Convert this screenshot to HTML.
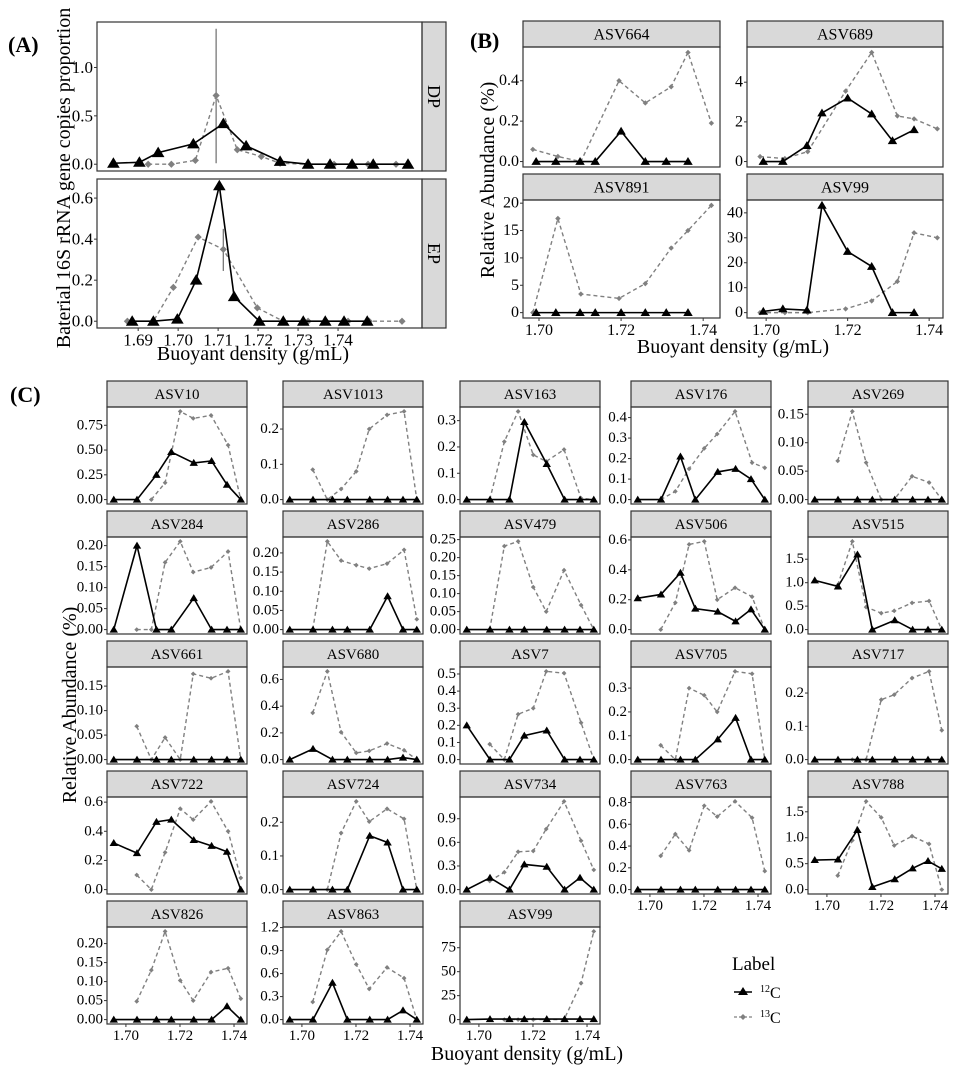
<!DOCTYPE html>
<html><head><meta charset="utf-8"><style>
html,body{margin:0;padding:0;background:#fff}
svg{display:block}
svg text{font-family:"Liberation Serif","DejaVu Serif",serif}
</style></head><body>
<svg id="fig" width="971" height="1069" viewBox="0 0 971 1069" xmlns="http://www.w3.org/2000/svg" font-family="Liberation Serif, DejaVu Serif, serif"></svg>
<script>
// ---------- Panel A data ----------
const aDP12x = [1.6838,1.6903,1.695,1.7038,1.7113,1.717,1.7255,1.7325,1.738,1.7435,1.7488,1.7575];
const aDP12y = [0.01,0.02,0.12,0.21,0.42,0.19,0.03,0,0,0,0,0];
const aDP13x = [1.6925,1.6983,1.7043,1.7095,1.7148,1.7208,1.7255,1.7325,1.739,1.7435,1.7475,1.7545];
const aDP13y = [0,0,0.04,0.71,0.15,0.08,0.01,0,0,0,0,0];
const aDPerr = [1.7095,0.01,1.40];
const aEP12x = [1.6885,1.6938,1.6998,1.7045,1.7103,1.714,1.7203,1.7263,1.7313,1.7368,1.7415,1.7473];
const aEP12y = [0,0,0.01,0.2,0.66,0.12,0,0,0,0,0,0];
const aEP13x = [1.6873,1.6938,1.6988,1.705,1.7113,1.7198,1.7263,1.7325,1.737,1.7425,1.7478,1.756];
const aEP13y = [0,0,0.165,0.41,0.35,0.065,0,0,0,0,0,0];
const aEPerr = [1.7113,0.245,0.45];
const aXTicks = [1.69,1.70,1.71,1.72,1.73,1.74];
const aDPYTicks = [0,0.5,1.0];
const aEPYTicks = [0,0.2,0.4,0.6];

// ---------- Panel B data ----------
const bX12 = [1.6993,1.7041,1.710,1.7137,1.72,1.7259,1.731,1.7363];
const bX13 = [1.6985,1.7046,1.7102,1.7195,1.7259,1.7322,1.7363,1.742];
const bNames = ["ASV664","ASV689","ASV891","ASV99"];
const b12 = [[0,0,0,0,0.15,0,0,0],[0,0,0.8,2.45,3.2,2.4,1.05,1.6],[0,0,0,0,0,0,0,0],[0.5,1.5,1,43,24.5,18.5,0,0]];
const b13 = [[0.06,0.025,0,0.4,0.29,0.37,0.54,0.19],[0.25,0.15,0.5,3.55,5.5,2.3,2.15,1.65],[0,17.2,3.4,2.6,5.3,11.8,15,19.6],[0,0,0,1.5,4.7,12.5,32,30]];
const bYTicks = [[0,0.2,0.4],[0,2,4],[0,5,10,15,20],[0,10,20,30,40]];
const bYLabels = [["0.0","0.2","0.4"],["0","2","4"],["0","5","10","15","20"],["0","10","20","30","40"]];
const bXTicks = [1.70,1.72,1.74];

// ---------- Panel C data ----------
const cX12 = [1.6955,1.7041,1.7113,1.7168,1.7251,1.7317,1.7374,1.7425];
const cX13 = [1.704,1.7094,1.7145,1.7201,1.7249,1.7315,1.7378,1.7425];
const cNames = ["ASV10","ASV1013","ASV163","ASV176","ASV269",
 "ASV284","ASV286","ASV479","ASV506","ASV515",
 "ASV661","ASV680","ASV7","ASV705","ASV717",
 "ASV722","ASV724","ASV734","ASV763","ASV788",
 "ASV826","ASV863","ASV99"];
const c12 = [
 [0,0,0.25,0.48,0.37,0.39,0.15,0],[0,0,0,0,0,0,0,0],[0,0,0,0.295,0.135,0,0,0],[0,0,0.21,0,0.135,0.15,0.1,0],[0,0,0,0,0,0,0,0],
 [0,0.2,0,0,0.075,0,0,0],[0,0,0,0,0,0.087,0,0],[0,0,0,0,0,0,0,0],[0.21,0.235,0.38,0.14,0.12,0.055,0.135,0],[1.05,0.92,1.6,0,0.2,0,0,0],
 [0,0,0,0,0,0,0,0],[0,0.08,0,0,0,0,0.015,0],[0.2,0,0,0.14,0.17,0,0,0],[0,0,0,0,0.085,0.175,0,0],[0,0,0,0,0,0,0,0],
 [0.32,0.25,0.465,0.48,0.34,0.3,0.26,0],[0,0,0,0,0.16,0.14,0,0],[0,0.15,0,0.32,0.29,0,0.15,0],[0,0,0,0,0,0,0,0],[0.57,0.58,1.15,0.05,0.2,0.41,0.55,0.4],
 [0,0,0,0,0,0,0.035,0],[0,0,0.48,0,0,0,0.12,0],[0,0.5,0.5,0.5,0.5,0.5,0.5,0.5]];
const c13 = [
 [null,0,0.17,0.89,0.82,0.85,0.55,0],[0.085,0,0.03,0.08,0.2,0.24,0.25,0],[0,0.22,0.335,0.17,0.145,0.19,0.005,0],[0,0.04,0.15,0.25,0.32,0.43,0.18,0.155],[0.068,0.155,0.065,0,0,0.041,0.03,0],
 [0,0,0.16,0.21,0.137,0.148,0.186,0],[0,0.23,0.18,0.168,0.159,0.172,0.208,0.027],[0,0.232,0.245,0.118,0.05,0.165,0.068,0],[0,0.18,0.57,0.59,0.2,0.28,0.22,0],[0.95,1.88,0.48,0.35,0.4,0.57,0.61,0],
 [0.068,0,0.045,0,0.175,0.166,0.18,0],[0.35,0.66,0.205,0.05,0.065,0.12,0.07,0],[0.09,0,0.265,0.3,0.515,0.505,0.215,0],[0.06,0,0.3,0.27,0.2,0.37,0.36,0],[null,0,0,0.18,0.195,0.245,0.265,0.088],
 [0.1,0,0.255,0.555,0.48,0.605,0.4,0.08],[null,0,0.168,0.262,0.202,0.24,0.21,0],[0.11,0.22,0.48,0.49,0.77,1.12,0.62,0.25],[0.31,0.51,0.36,0.77,0.67,0.81,0.66,0.17],[0.27,0.95,1.7,1.39,0.85,1.03,0.88,0],
 [0.048,0.13,0.232,0.103,0.05,0.125,0.135,0.055],[0.23,0.91,1.15,0.72,0.4,0.68,0.54,0],[null,0,0,0,0,0,38,92]];
const cYLabels = [
 ["0.00","0.25","0.50","0.75"],["0.0","0.1","0.2"],["0.0","0.1","0.2","0.3"],["0.0","0.1","0.2","0.3","0.4"],["0.00","0.05","0.10","0.15"],
 ["0.00","0.05","0.10","0.15","0.20"],["0.00","0.05","0.10","0.15","0.20"],["0.00","0.05","0.10","0.15","0.20","0.25"],["0.0","0.2","0.4","0.6"],["0.0","0.5","1.0","1.5"],
 ["0.00","0.05","0.10","0.15"],["0.0","0.2","0.4","0.6"],["0.0","0.1","0.2","0.3","0.4","0.5"],["0.0","0.1","0.2","0.3"],["0.0","0.1","0.2"],
 ["0.0","0.2","0.4","0.6"],["0.0","0.1","0.2"],["0.0","0.3","0.6","0.9"],["0.0","0.2","0.4","0.6","0.8"],["0.0","0.5","1.0","1.5"],
 ["0.00","0.05","0.10","0.15","0.20"],["0.0","0.3","0.6","0.9","1.2"],["0","25","50","75"]];
const cXTicks = [1.70,1.72,1.74];

// ---------- layout ----------
const NS = "http://www.w3.org/2000/svg";
const FONT = "Liberation Serif, DejaVu Serif, serif";
const svg = document.getElementById("fig");
function el(tag, attrs, parent){const e=document.createElementNS(NS,tag);for(const k in attrs)e.setAttribute(k,attrs[k]);(parent||svg).appendChild(e);return e;}
function txt(s, attrs, parent){attrs["font-family"]=FONT;const e=el("text",attrs,parent);e.textContent=s;return e;}

function drawPanel(o){
  const g = el("g",{});
  
  
  let all=[0];
  o.series.forEach(s=>s.ys.forEach(v=>{if(v!==null)all.push(v);}));
  (o.extra||[]).forEach(v=>all.push(v));
  let lo=Math.min(...all), hi=Math.max(...all); if(hi===lo)hi=lo+1;
  const pad=(hi-lo)*0.05; lo-=pad; hi+=pad;
  const sx=v=>o.x+(v-o.xd[0])/(o.xd[1]-o.xd[0])*o.w;
  const sy=v=>o.y+o.h-(v-lo)/(hi-lo)*o.h;
  el("rect",{x:o.x,y:o.y,width:o.w,height:o.h,fill:"#fff",stroke:"none"},g);
  if(o.strip){
    let sr, st;
    if(o.stripSide==="right"){
      sr=el("rect",{x:o.x+o.w,y:o.y,width:o.sw,height:o.h,fill:"#d9d9d9",stroke:"#333","stroke-width":1.2},g);
      st=txt(o.strip,{x:o.x+o.w+o.sw/2,y:o.y+o.h/2,"font-size":18,"text-anchor":"middle","dominant-baseline":"central",transform:`rotate(90 ${o.x+o.w+o.sw/2} ${o.y+o.h/2})`},g);
    } else {
      sr=el("rect",{x:o.x,y:o.y-o.sh,width:o.w,height:o.sh,fill:"#d9d9d9",stroke:"#333","stroke-width":1.2},g);
      st=txt(o.strip,{x:o.x+o.w/2,y:o.y-o.sh/2+1,"font-size":o.stripFs,"text-anchor":"middle","dominant-baseline":"central"},g);
    }
    
    
    
    
  }
  o.yt.forEach((v,i)=>{
    const y=sy(v);
    el("line",{x1:o.x-3,x2:o.x,y1:y,y2:y,stroke:"#333","stroke-width":1},g);
    const t=txt(o.ytl[i],{x:o.x-4,y:y,"font-size":o.fs,"text-anchor":"end","dominant-baseline":"central"},g);
    
    
  });
  if(o.xt){
    o.xt.forEach((v,i)=>{
      const x=sx(v);
      el("line",{x1:x,x2:x,y1:o.y+o.h,y2:o.y+o.h+3,stroke:"#333","stroke-width":1},g);
      const t=txt(o.xtl[i],{x:x,y:o.y+o.h+4+o.fs*0.8,"font-size":o.fs,"text-anchor":"middle"},g);
      
      
    });
  }
  (o.err||[]).forEach(e=>{
    const l=el("line",{x1:sx(e[0]),x2:sx(e[0]),y1:sy(e[1]),y2:sy(e[2]),stroke:"#777","stroke-width":1.3},g);
    
    
  });
  o.series.forEach(s=>{
    const pts=[]; s.xs.forEach((x,i)=>{if(s.ys[i]!==null)pts.push([sx(x),sy(s.ys[i])]);});
    const is12 = s.kind==="12C";
    const pl=el("polyline",{points:pts.map(p=>p.join(",")).join(" "),fill:"none",stroke:is12?"#000":"#808080","stroke-width":is12?1.6:1.4,"stroke-dasharray":is12?"none":"4,3"},g);
    
    
    pts.forEach(p=>{
      let m;
      if(is12){const r=o.ms; m=el("polygon",{points:`${p[0]},${p[1]-r} ${p[0]-r*1.05},${p[1]+r*0.75} ${p[0]+r*1.05},${p[1]+r*0.75}`,fill:"#000"},g);}
      else{const r=o.ms*0.6; m=el("polygon",{points:`${p[0]},${p[1]-r} ${p[0]+r},${p[1]} ${p[0]},${p[1]+r} ${p[0]-r},${p[1]}`,fill:"#808080"},g);}
      
      
    });
  });
  el("rect",{x:o.x,y:o.y,width:o.w,height:o.h,fill:"none",stroke:"#333","stroke-width":1.2},g);
}
const fmt2 = v=>v.toFixed(2);

// ----- Panel A -----
const aXd=[1.6797,1.761];
drawPanel({name:"panel-a-dp",x:97,y:22,w:325,h:149,xd:aXd,sw:24,strip:"DP",stripSide:"right",fs:17,ms:6,
  yt:aDPYTicks,ytl:aDPYTicks.map(v=>v.toFixed(1)),extra:[aDPerr[2]],err:[aDPerr],
  series:[{xs:aDP13x,ys:aDP13y,kind:"13C"},{xs:aDP12x,ys:aDP12y,kind:"12C"}]});
drawPanel({name:"panel-a-ep",x:97,y:179,w:325,h:149,xd:aXd,sw:24,strip:"EP",stripSide:"right",fs:17,ms:6,
  yt:aEPYTicks,ytl:aEPYTicks.map(v=>v.toFixed(1)),xt:aXTicks,xtl:aXTicks.map(fmt2),extra:[aEPerr[2]],err:[aEPerr],
  series:[{xs:aEP13x,ys:aEP13y,kind:"13C"},{xs:aEP12x,ys:aEP12y,kind:"12C"}]});

// ----- Panel B -----
const bPos=[[523,47,197,120,[1.6961,1.7441]],[747,47,196,120,[1.6953,1.7434]],[523,200,197,118,[1.6961,1.7441]],[747,200,196,118,[1.6953,1.7434]]];
bNames.forEach((n,i)=>{
  const p=bPos[i];
  drawPanel({name:"panel-b-"+n.toLowerCase(),x:p[0],y:p[1],w:p[2],h:p[3],xd:p[4],sh:26,strip:n,stripFs:16,fs:16,ms:4.5,
    yt:bYTicks[i],ytl:bYLabels[i],xt:i>=2?bXTicks:null,xtl:bXTicks.map(fmt2),
    series:[{xs:bX13,ys:b13[i],kind:"13C"},{xs:bX12,ys:b12[i],kind:"12C"}]});
});

// ----- Panel C -----
const colX=[107,283,460,631,808], rowY=[407,537,667,797,927];
cNames.forEach((n,i)=>{
  const r=Math.floor(i/5), c=i%5;
  const bottom = (r===4) || (r===3 && c>=3);
  drawPanel({name:"panel-c-"+n.toLowerCase(),x:colX[c],y:rowY[r],w:140,h:97,xd:[1.693,1.7448],sh:26,strip:n,stripFs:15,fs:15,ms:4,
    yt:cYLabels[i].map(Number),ytl:cYLabels[i],xt:bottom?cXTicks:null,xtl:cXTicks.map(fmt2),
    series:[{xs:cX13,ys:c13[i],kind:"13C"},{xs:cX12,ys:c12[i],kind:"12C"}]});
});

// ----- titles / labels -----
function label(s,attrs,name){const t=txt(s,attrs);return t;}
label("(A)",{x:8,y:52,"font-size":22,"font-weight":"bold"},"panel-a-label");
label("(B)",{x:470,y:48,"font-size":22,"font-weight":"bold"},"panel-b-label");
label("(C)",{x:10,y:402,"font-size":22,"font-weight":"bold"},"panel-c-label");
label("Baterial 16S rRNA gene copies proportion",{x:0,y:0,"font-size":20,"text-anchor":"middle",transform:"translate(70,178) rotate(-90)"},"panel-a-y-axis-title");
label("Buoyant density (g/mL)",{x:253,y:360,"font-size":20,"text-anchor":"middle"},"panel-a-x-axis-title");
label("Relative Abundance (%)",{x:0,y:0,"font-size":20,"text-anchor":"middle",transform:"translate(494,180) rotate(-90)"},"panel-b-y-axis-title");
label("Buoyant density (g/mL)",{x:733,y:353,"font-size":20,"text-anchor":"middle"},"panel-b-x-axis-title");
label("Relative Abundance (%)",{x:0,y:0,"font-size":20,"text-anchor":"middle",transform:"translate(76,705) rotate(-90)"},"panel-c-y-axis-title");
label("Buoyant density (g/mL)",{x:527,y:1060,"font-size":20,"text-anchor":"middle"},"panel-c-x-axis-title");

// ----- legend -----
const lg=el("g",{});


const lt=txt("Label",{x:732,y:970,"font-size":19},lg);


el("line",{x1:734,x2:752,y1:992,y2:992,stroke:"#000","stroke-width":1.6},lg);
el("polygon",{points:"743,987 738,995 748,995",fill:"#000"},lg);
const l1=txt("",{x:760,y:998,"font-size":16},lg);


l1.innerHTML='<tspan font-size="10" dy="-6">12</tspan><tspan dy="6">C</tspan>';
el("line",{x1:734,x2:752,y1:1017,y2:1017,stroke:"#808080","stroke-width":1.3,"stroke-dasharray":"3,2"},lg);
el("polygon",{points:"743,1014 746,1017 743,1020 740,1017",fill:"#808080"},lg);
const l2=txt("",{x:760,y:1023,"font-size":16},lg);


l2.innerHTML='<tspan font-size="10" dy="-6">13</tspan><tspan dy="6">C</tspan>';
</script>
</body></html>
